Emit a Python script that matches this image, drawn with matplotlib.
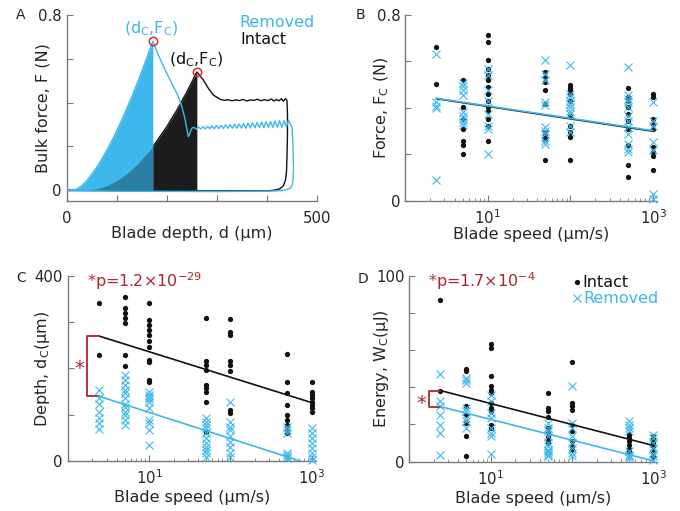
import numpy as np
import matplotlib
matplotlib.use('Agg')
import matplotlib.pyplot as plt
from matplotlib.ticker import NullFormatter, LogLocator

plt.rcParams['font.family'] = ['DejaVu Sans']
plt.rcParams['mathtext.fontset'] = 'dejavusans'

# ---------------- data ----------------
# Panel A: force-depth curves
removed_load_d = [0, 10, 20, 30, 40, 50, 60, 70, 80, 90, 100, 110, 120, 130, 140, 150, 160, 172]
removed_load_F = [0, 0, 0.004, 0.020, 0.043, 0.072, 0.104, 0.141, 0.181, 0.224, 0.271, 0.320,
                  0.372, 0.426, 0.483, 0.542, 0.604, 0.680]
removed_after_d = [172, 183, 200, 210, 216, 223, 230, 236, 243, 250,
                   254, 259, 263, 268, 272, 277, 281, 286, 290, 295, 299, 304, 308, 313, 317,
                   322, 326, 331, 335, 340, 344, 349, 353, 358, 362, 367, 371, 376, 380, 385,
                   389, 394, 398, 403, 407, 412, 416, 421, 425, 430, 434, 439, 443, 447,
                   450, 452, 453, 452, 450, 446, 440, 436, 420, 300, 100, 0]
removed_after_F = [0.680, 0.617, 0.533, 0.488, 0.460, 0.427, 0.381, 0.328, 0.244, 0.282,
                   0.287, 0.278, 0.288, 0.279, 0.290, 0.279, 0.291, 0.280, 0.293, 0.280, 0.295,
                   0.281, 0.296, 0.281, 0.298, 0.282, 0.299, 0.282, 0.301, 0.283, 0.302, 0.283,
                   0.304, 0.283, 0.306, 0.284, 0.307, 0.284, 0.309, 0.285, 0.310, 0.285, 0.312,
                   0.286, 0.313, 0.286, 0.315, 0.287, 0.317, 0.287, 0.318, 0.288, 0.320, 0.300,
                   0.290, 0.200, 0.100, 0.040, 0.020, 0.008, 0.002, 0.0, -0.004, -0.007, -0.005, -0.002]
intact_load_d = [0, 20, 40, 60, 80, 100, 120, 140, 160, 172, 180, 200, 220, 240, 260]
intact_load_F = [0, 0, 0, 0.005, 0.019, 0.043, 0.075, 0.116, 0.166, 0.199, 0.224, 0.290,
                 0.365, 0.448, 0.540]
intact_after_d = [260, 273, 283, 293, 307, 315, 322, 330, 338, 345, 352, 360, 367, 374, 381,
                  388, 395, 402, 409, 414, 419, 424, 429, 433, 437, 440,
                  441, 441, 440, 439, 437, 433, 426, 416, 405, 300, 150, 0]
intact_after_F = [0.540, 0.503, 0.465, 0.434, 0.414, 0.410, 0.413, 0.408, 0.412, 0.409, 0.414,
                  0.407, 0.412, 0.410, 0.415, 0.408, 0.413, 0.409, 0.416, 0.407, 0.414, 0.408,
                  0.417, 0.406, 0.418, 0.410,
                  0.350, 0.250, 0.150, 0.080, 0.046, 0.020, 0.006, 0.0, -0.003, -0.004, -0.003, -0.002]
peak_removed = (172, 0.680)
peak_intact = (260, 0.540)

# Panels B-D: blade speed columns
speeds = [2.4, 5, 10, 50, 100, 500, 1000]

force_intact = [
    [0.663, 0.504],
    [0.522, 0.406, 0.353, 0.310, 0.259, 0.242, 0.202],
    [0.713, 0.684, 0.608, 0.569, 0.540, 0.519, 0.490, 0.461, 0.432, 0.403, 0.389, 0.353, 0.324, 0.259],
    [0.555, 0.533, 0.512, 0.476, 0.418, 0.296, 0.281, 0.267, 0.176],
    [0.497, 0.487, 0.476, 0.461, 0.432, 0.367, 0.324, 0.296, 0.274, 0.176],
    [0.487, 0.447, 0.432, 0.406, 0.375, 0.343, 0.310, 0.242, 0.154, 0.105],
    [0.461, 0.447, 0.353, 0.331, 0.310, 0.231, 0.209, 0.195, 0.133],
]
force_removed = [
    [0.634, 0.425, 0.410, 0.400, 0.089],
    [0.507, 0.493, 0.476, 0.454, 0.382, 0.367, 0.353, 0.339, 0.329],
    [0.569, 0.540, 0.476, 0.432, 0.375, 0.324, 0.310, 0.202],
    [0.608, 0.548, 0.519, 0.425, 0.411, 0.317, 0.303, 0.288, 0.259, 0.245],
    [0.584, 0.461, 0.447, 0.432, 0.418, 0.403, 0.389, 0.375, 0.324, 0.295],
    [0.576, 0.454, 0.440, 0.425, 0.403, 0.367, 0.346, 0.317, 0.288, 0.245, 0.223, 0.209],
    [0.425, 0.346, 0.324, 0.252, 0.219, 0.029, 0.007],
]
depth_intact = [
    [340, 229],
    [353, 331, 319, 308, 297, 229, 204],
    [340, 304, 294, 283, 272, 259, 247, 218, 214, 175, 171],
    [309, 216, 207, 196, 164, 157, 150, 128, 63],
    [306, 279, 272, 216, 207, 194, 110, 103],
    [230, 171, 146, 121, 99, 88, 78, 67, 60],
    [170, 150, 142, 135, 128, 121, 114, 106],
]
depth_removed = [
    [153, 135, 124, 106, 92, 81, 70],
    [186, 175, 164, 153, 146, 135, 124, 117, 106, 99, 88, 78],
    [150, 142, 139, 134, 128, 114, 88, 81, 67, 35],
    [92, 85, 78, 71, 60, 49, 38, 31, 24, 17, 9],
    [128, 85, 74, 67, 53, 42, 31, 17, 9],
    [74, 67, 60, 17, 13, 9, 6],
    [71, 60, 49, 38, 27, 17, 9, 2],
]
energy_intact = [
    [86.9, 38.2],
    [49.6, 48.7, 29.7, 25.2, 20.7, 13.5, 2.7],
    [63.4, 61.3, 46.0, 40.5, 38.7, 36.9, 31.5, 28.8, 27.4, 19.8, 18.0],
    [36.9, 28.8, 27.0, 23.8, 18.0, 15.3, 13.0, 10.8, 9.9],
    [53.7, 31.5, 29.7, 27.9, 19.5, 16.2, 10.8, 8.1, 6.3],
    [14.8, 13.0, 10.8, 9.0, 6.8, 5.4],
    [13.5, 12.6, 10.8, 9.4, 8.1, 5.4, 2.7],
]
energy_removed = [
    [47.2, 32.4, 29.7, 25.2, 19.8, 15.3, 3.6],
    [45.0, 43.6, 42.3, 28.8, 27.0, 23.4, 21.6, 18.0],
    [36.0, 32.4, 26.1, 23.4, 18.0, 15.3, 13.5, 4.0],
    [20.7, 18.0, 16.2, 13.5, 9.9, 8.1, 6.3, 5.4, 4.5, 3.6, 2.7],
    [40.5, 20.7, 18.0, 13.5, 9.9, 7.2, 4.5, 2.7],
    [21.6, 19.8, 18.0, 16.2, 5.4, 3.6, 2.7, 1.8],
    [14.4, 12.6, 9.9, 7.2, 4.5, 2.7, 0.9],
]
# linear fits vs log10(speed): (intercept, slope)
fit_force_intact = (0.4603, -0.0534)
fit_force_removed = (0.4620, -0.0531)
fit_depth_intact = (290.9, -54.96)
fit_depth_removed = (161.5, -56.5)
fit_energy_intact = (42.5, -11.3)
fit_energy_removed = (33.8, -11.15)

p_depth = r'*p=1.2$\times$10$^{-29}$'
p_energy = r'*p=1.7$\times$10$^{-4}$'

# ---------------- style ----------------
BLUE = '#3DB7EC'
BLACK = '#111111'
RED_P = '#B0262A'
CIRCLE = '#E8262B'
AXC = '#7a7a7a'
TXT = '#262626'
FS_TICK = 10.7
FS_LAB = 11.5

W, H = 680, 511
fig = plt.figure(figsize=(W / 100, H / 100), dpi=100)


def rect(left, width, bottom_px, top_px):
    return [left / W, 1 - bottom_px / H, width / W, (bottom_px - top_px) / H]


def style(ax, xpad=7):
    for s in ['top', 'right']:
        ax.spines[s].set_visible(False)
    for s in ['left', 'bottom']:
        ax.spines[s].set_color(AXC)
        ax.spines[s].set_linewidth(1.0)
    ax.tick_params(which='both', direction='in', colors=AXC, labelcolor=TXT,
                   labelsize=FS_TICK)
    ax.tick_params(which='major', length=4)
    ax.tick_params(which='minor', length=2.5)
    ax.tick_params(axis='x', pad=xpad)
    ax.tick_params(axis='y', pad=3.5)


axA = fig.add_axes(rect(66.7, 250.3, 201, 15))
axB = fig.add_axes(rect(405, 252, 201, 15))
axC = fig.add_axes(rect(67.7, 248, 461, 275.7))
axD = fig.add_axes(rect(409.4, 248, 461.5, 275.7))

# ---- Panel A ----
ax = axA
style(ax)
ild = np.array(intact_load_d); ilF = np.array(intact_load_F)
rld = np.array(removed_load_d); rlF = np.array(removed_load_F)
ax.plot(list(intact_load_d) + intact_after_d[1:], list(intact_load_F) + intact_after_F[1:],
        color=BLACK, lw=1.0, zorder=1)
ax.fill_between(rld, 0, rlF, color=BLUE, lw=0, zorder=2)
m1 = ild >= peak_removed[0]
ax.fill_between(ild[m1], 0, ilF[m1], color='#1c1c1c', lw=0, zorder=2)
m2 = ild <= peak_removed[0]
ax.fill_between(ild[m2], 0, ilF[m2], color='black', alpha=0.3, lw=0, zorder=3)
ax.plot(list(removed_load_d) + removed_after_d[1:], list(removed_load_F) + removed_after_F[1:],
        color=BLUE, lw=1.0, zorder=4)
ax.plot([peak_removed[0], peak_intact[0]], [peak_removed[1], peak_intact[1]], ls='none',
        marker='o', ms=6, mfc='none', mec=CIRCLE, mew=1.1, zorder=6)
ax.text(169.8, 0.739, r'(d$_\mathregular{C}$,F$_\mathregular{C}$)', color=BLUE,
        fontsize=FS_LAB, ha='center', va='center')
ax.text(259.7, 0.594, r'(d$_\mathregular{C}$,F$_\mathregular{C}$)', color=BLACK,
        fontsize=FS_LAB, ha='center', va='center')
ax.text(345, 0.765, 'Removed', color=BLUE, fontsize=FS_LAB, ha='left', va='center')
ax.text(346, 0.689, 'Intact', color=BLACK, fontsize=FS_LAB, ha='left', va='center')
ax.set_xlim(0, 500)
ax.set_ylim(-0.05, 0.8)
ax.set_xticks([0, 100, 200, 300, 400, 500])
ax.set_xticklabels(['0', '', '', '', '', '500'])
ax.set_yticks([0, 0.2, 0.4, 0.6, 0.8])
ax.set_yticklabels(['0', '', '', '', '0.8'])
ax.set_xlabel('Blade depth, d (µm)', fontsize=FS_LAB, va='center', color=TXT)
ax.set_ylabel('Bulk force, F (N)', fontsize=FS_LAB, va='center', color=TXT)
ax.xaxis.set_label_coords(0.5, -0.176)
ax.yaxis.set_label_coords(-0.0947, 0.5)


def scatter_panel(ax, intact, removed, fit_i, fit_r, ylim, yticks, ylabels, ylabel,
                  ylab_x, xlab_y):
    style(ax, xpad=5.5)
    for s, vals in zip(speeds, intact):
        ax.plot([s] * len(vals), vals, ls='none', marker='o', ms=3.8, color=BLACK,
                mew=0, zorder=3, clip_on=False)
    for s, vals in zip(speeds, removed):
        ax.plot([s] * len(vals), vals, ls='none', marker='x', ms=6, color=BLUE,
                mew=0.8, zorder=4, clip_on=False)
    xs = np.array([speeds[0], speeds[-1]])
    ax.plot(xs, fit_i[0] + fit_i[1] * np.log10(xs), color=BLACK, lw=1.2, zorder=5)
    ax.plot(xs, fit_r[0] + fit_r[1] * np.log10(xs), color=BLUE, lw=1.2, zorder=6)
    ax.set_xscale('log')
    ax.set_xlim(1, 1120)
    ax.set_ylim(*ylim)
    ax.set_xticks([1, 10, 100, 1000])
    ax.set_xticklabels(['', r'10$^{1}$', '', r'10$^{3}$'])
    ax.xaxis.set_minor_locator(LogLocator(base=10, subs=np.arange(2, 10)))
    ax.xaxis.set_minor_formatter(NullFormatter())
    ax.set_yticks(yticks)
    ax.set_yticklabels(ylabels)
    ax.set_xlabel('Blade speed (µm/s)', fontsize=FS_LAB, va='center', color=TXT)
    ax.set_ylabel(ylabel, fontsize=FS_LAB, va='center', color=TXT)
    ax.xaxis.set_label_coords(0.5, xlab_y)
    ax.yaxis.set_label_coords(ylab_x, 0.5)


scatter_panel(axB, force_intact, force_removed, fit_force_intact, fit_force_removed,
              (0, 0.8), [0, 0.2, 0.4, 0.6, 0.8], ['0', '', '', '', '0.8'],
              r'Force, F$_\mathregular{C}$ (N)', -0.0925, -0.18)
scatter_panel(axC, depth_intact, depth_removed, fit_depth_intact, fit_depth_removed,
              (0, 400), [0, 100, 200, 300, 400], ['0', '', '', '', '400'],
              r'Depth, d$_\mathregular{C}$(µm)', -0.0996, -0.196)
scatter_panel(axD, energy_intact, energy_removed, fit_energy_intact, fit_energy_removed,
              (0, 100), [0, 20, 40, 60, 80, 100], ['0', '', '', '', '', '100'],
              r'Energy, W$_\mathregular{C}$(µJ)', -0.1117, -0.198)


def bracket(ax, fit_i, fit_r, xb, star_xy, ptext, p_xy):
    y1 = fit_i[0] + fit_i[1] * np.log10(speeds[0])
    y2 = fit_r[0] + fit_r[1] * np.log10(speeds[0])
    ax.plot([speeds[0], xb, xb, speeds[0]], [y1, y1, y2, y2], color=RED_P, lw=1.3,
            zorder=5, clip_on=False)
    ax.text(star_xy[0], star_xy[1], '*', color=RED_P, fontsize=14, ha='center',
            va='baseline', transform=ax.transAxes)
    ax.text(p_xy[0], p_xy[1], ptext, color=RED_P, fontsize=FS_LAB, ha='left',
            va='baseline', transform=ax.transAxes)


bracket(axC, fit_depth_intact, fit_depth_removed, 1.75, (0.0456, 0.47), p_depth,
        (0.079, 0.9407))
bracket(axD, fit_energy_intact, fit_energy_removed, 1.76, (0.047, 0.285), p_energy,
        (0.076, 0.9376))

# legend in D
axD.plot([0.6746], [0.9645], marker='o', ms=3.8, color=BLACK, mew=0,
         transform=axD.transAxes, clip_on=False)
axD.text(0.699, 0.9645, 'Intact', color=BLACK, fontsize=FS_LAB, ha='left', va='center',
         transform=axD.transAxes)
axD.plot([0.6746], [0.878], marker='x', ms=6, color=BLUE, mew=0.8,
         transform=axD.transAxes, clip_on=False)
axD.text(0.701, 0.878, 'Removed', color=BLUE, fontsize=FS_LAB, ha='left', va='center',
         transform=axD.transAxes)

# panel letters
for lab, x, y in [('A', 20.8, 14.7), ('B', 360.7, 15), ('C', 20.7, 278.3), ('D', 362.7, 279)]:
    fig.text(x / W, 1 - y / H, lab, fontsize=10, ha='center', va='center', color=TXT)

fig.savefig('out.png', dpi=100)
